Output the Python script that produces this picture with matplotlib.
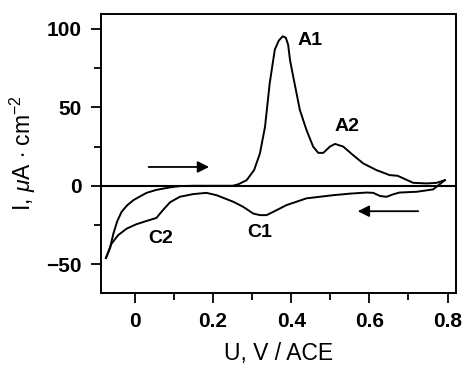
import matplotlib.pyplot as plt
from matplotlib.ticker import MultipleLocator

plt.rcParams['font.family'] = ['Liberation Sans', 'DejaVu Sans']
plt.rcParams['mathtext.fontset'] = 'custom'
plt.rcParams['mathtext.rm'] = 'Liberation Sans'
plt.rcParams['mathtext.it'] = 'Liberation Sans:italic'

# Прямой (анодный) ход: от -0.074 В до точки поворота 0.793 В
u_fwd = [-0.074, -0.064, -0.055, -0.045, -0.034, -0.020, -0.004, 0.015, 0.030,
         0.055, 0.090, 0.115, 0.150, 0.200, 0.250, 0.265, 0.286, 0.305, 0.320,
         0.333, 0.345, 0.358, 0.368, 0.378, 0.386, 0.392, 0.397, 0.405, 0.422,
         0.439, 0.456, 0.469, 0.482, 0.499, 0.512, 0.533, 0.558, 0.584, 0.618,
         0.652, 0.672, 0.687, 0.712, 0.747, 0.772, 0.793]
i_fwd = [-46.0, -40.0, -30.5, -22.5, -16.6, -12.5, -9.2, -6.5, -4.5,
         -2.6, -1.0, -0.2, 0.0, 0.0, 0.0, 1.0, 3.6, 10.0, 20.7,
         37.7, 65.5, 86.8, 92.5, 95.3, 94.5, 90.0, 80.0, 69.7, 48.4,
         35.6, 25.0, 21.0, 21.0, 25.0, 26.7, 25.0, 19.6, 14.3, 10.0,
         6.8, 6.4, 4.7, 1.9, 1.5, 1.9, 3.6]

# Обратный (катодный) ход: от 0.793 В обратно к -0.074 В
u_rev = [0.793, 0.763, 0.721, 0.677, 0.660, 0.644, 0.627, 0.610, 0.593, 0.550,
         0.507, 0.439, 0.388, 0.354, 0.337, 0.320, 0.303, 0.277, 0.252, 0.209,
         0.183, 0.149, 0.115, 0.090, 0.070, 0.055, 0.030, 0.004, -0.021,
         -0.043, -0.060, -0.074]
i_rev = [3.6, -2.3, -3.8, -4.3, -5.5, -7.0, -6.5, -4.5, -4.3, -5.0,
         -6.0, -8.0, -12.3, -16.6, -18.7, -18.7, -17.7, -13.4, -10.2, -6.0,
         -4.5, -5.3, -7.0, -10.5, -16.0, -20.5, -22.4, -24.5, -27.3,
         -31.5, -37.0, -46.0]

peak_labels = ['A1', 'A2', 'C1', 'C2']
peak_u = [0.448, 0.542, 0.320, 0.067]
peak_i = [92.6, 37.5, -29.9, -33.4]

fig = plt.figure(figsize=(4.67, 3.65), dpi=100)
ax = fig.add_axes([0.216, 0.197, 0.760, 0.765])

ax.plot(u_fwd, i_fwd, color='black', lw=1.4)
ax.plot(u_rev, i_rev, color='black', lw=1.4)
ax.axhline(0, color='black', lw=1.5)

# Стрелки направления развёртки
ax.annotate('', xy=(0.197, 12), xytext=(0.028, 12),
            arrowprops=dict(arrowstyle='-|>', color='black', lw=1.3,
                            mutation_scale=17))
ax.annotate('', xy=(0.563, -16.2), xytext=(0.732, -16.2),
            arrowprops=dict(arrowstyle='-|>', color='black', lw=1.3,
                            mutation_scale=17))

for lab, x, y in zip(peak_labels, peak_u, peak_i):
    ax.text(x, y, lab, fontsize=14, fontweight='bold', ha='center', va='center')

ax.set_xlim(-0.087, 0.821)
ax.set_ylim(-68.4, 109.6)
ax.xaxis.set_major_locator(MultipleLocator(0.2))
ax.xaxis.set_minor_locator(MultipleLocator(0.1))
ax.yaxis.set_major_locator(MultipleLocator(50))
ax.yaxis.set_minor_locator(MultipleLocator(25))
ax.set_xticks([0, 0.2, 0.4, 0.6, 0.8])
ax.set_xticklabels(['0', '0.2', '0.4', '0.6', '0.8'])

ax.tick_params(which='major', direction='out', length=7.5, width=1.3,
               labelsize=15, pad=6)
ax.tick_params(which='minor', direction='out', length=5, width=1.3)
for lab in ax.get_xticklabels() + ax.get_yticklabels():
    lab.set_fontweight('bold')
for sp in ax.spines.values():
    sp.set_linewidth(1.4)

ax.set_xlabel('U, V / ACE', fontsize=16.5, labelpad=8)
ax.set_ylabel(r'I, $\mu$A $\cdot$ cm$^{-2}$', fontsize=16.5, labelpad=6)

plt.savefig('out.png', dpi=100)
